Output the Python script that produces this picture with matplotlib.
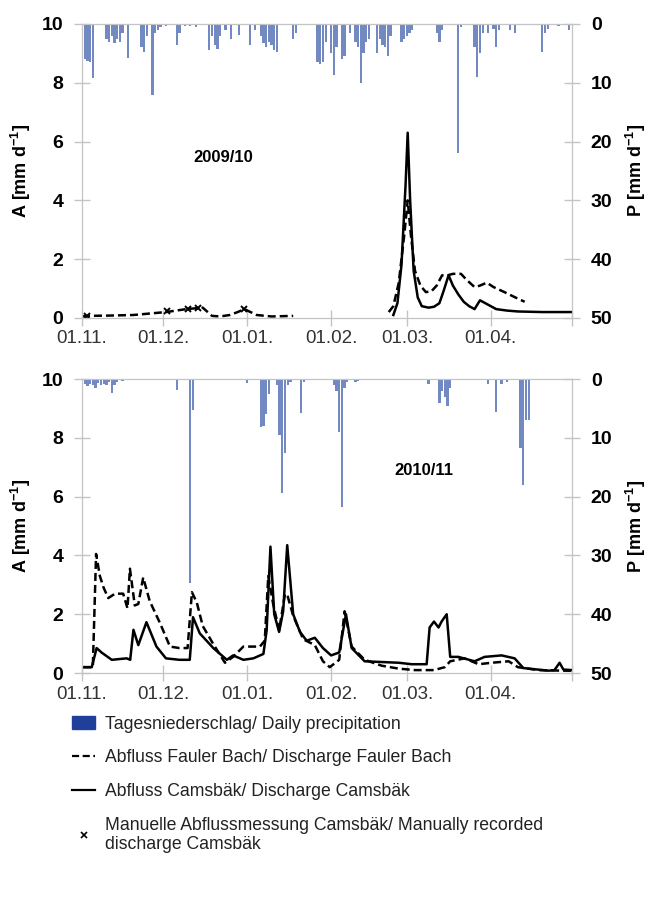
import matplotlib
matplotlib.use("Agg")
import matplotlib.pyplot as plt
from matplotlib.lines import Line2D
from matplotlib.patches import Patch

plt.rcParams['font.family'] = ['Liberation Sans', 'DejaVu Sans']
plt.rcParams['mathtext.fontset'] = 'custom'
plt.rcParams['mathtext.rm'] = 'Liberation Sans:bold'
plt.rcParams['mathtext.default'] = 'rm'

# x axis: days since 01.11.
month_days = [0, 30, 61, 92, 120, 151, 181]
month_labels = ["01.11.", "01.12.", "01.01.", "01.02.", "01.03.", "01.04.", ""]

# ---- 2009/10 ----
p1_day = [1, 2, 3, 4, 9, 10, 11, 12, 13, 14, 15, 17, 22, 23, 24, 26, 27, 28, 29,
          31, 33, 35, 36, 38, 40, 42, 44, 47, 48, 49, 50, 51, 53, 55, 58,
          62, 64, 66, 67, 68, 69, 70, 71, 72, 78, 79, 87, 88, 89, 90,
          92, 93, 94, 96, 97, 99, 101, 102, 103, 104, 105, 106,
          109, 110, 111, 112, 113, 114, 118, 119, 120, 121, 122,
          131, 132, 133, 139, 140, 145, 146, 147, 148, 150, 152, 153, 154,
          158, 160, 170, 171, 172, 176, 180]
p1_mm = [6.0, 6.3, 6.5, 9.2, 2.5, 3.0, 2.0, 3.2, 2.5, 3.0, 1.5, 5.8, 4.0, 4.8, 2.0, 12.0, 1.5, 1.0, 0.5,
         0.3, 0.2, 3.5, 1.5, 0.3, 0.3, 0.5, 0.2, 4.5, 2.0, 3.5, 4.2, 2.0, 1.0, 2.5, 1.8,
         3.5, 1.0, 2.0, 3.2, 4.0, 3.0, 3.5, 4.5, 4.8, 2.5, 1.5, 6.5, 6.8, 6.5, 3.0,
         5.0, 8.7, 4.0, 6.0, 5.5, 1.5, 3.0, 4.0, 10.0, 5.0, 3.0, 2.5,
         5.0, 2.5, 3.5, 4.0, 5.5, 2.0, 3.0, 2.5, 2.0, 1.5, 1.0,
         1.5, 3.0, 1.0, 22.0, 0.5, 4.0, 9.0, 5.0, 1.5, 1.5, 0.8, 4.0, 1.0,
         1.0, 1.5, 4.7, 1.5, 0.8, 0.3, 1.0]

fb1_day_a = [0, 2, 10, 19, 25, 31, 38.5, 41, 44.6, 48, 51, 54.6, 57.5, 60, 64.5, 70, 78]
fb1_a = [0.05, 0.07, 0.08, 0.1, 0.15, 0.2, 0.3, 0.32, 0.35, 0.07, 0.05, 0.1, 0.2, 0.3, 0.1, 0.05, 0.07]
fb1_day_b = [113.3, 115, 117, 119, 120.3, 121.5, 123, 125, 127, 129, 131, 133, 135, 137,
             140, 142, 145, 147, 149.5, 152, 156, 160, 163.5]
fb1_b = [0.2, 0.4, 1.2, 2.8, 4.0, 2.8, 1.6, 1.1, 0.88, 0.9, 1.1, 1.45, 1.45, 1.5,
         1.5, 1.3, 1.05, 1.1, 1.2, 1.05, 0.88, 0.7, 0.55]
cb1_day = [115, 116.5, 118, 119.5, 120.3, 121.2, 122.5, 124, 125.5, 128, 130, 132, 133.5, 135.4,
           137, 139, 141, 143, 145, 146, 147, 150, 153, 157, 161, 170, 181]
cb1_a = [0.1, 0.5, 1.8, 4.5, 6.3, 4.0, 1.6, 0.7, 0.4, 0.35, 0.38, 0.5, 0.9, 1.45,
         1.1, 0.8, 0.55, 0.4, 0.3, 0.45, 0.6, 0.45, 0.3, 0.25, 0.22, 0.2, 0.2]
man1_day = [2, 31.5, 39, 43, 60]
man1_a = [0.05, 0.25, 0.3, 0.35, 0.3]

# ---- 2010/11 ----
p2_day = [1, 2, 3, 4, 5, 6, 7, 8, 9, 10, 11, 12, 13, 15, 35, 40, 41, 61,
          66, 67, 68, 69, 72, 73, 74, 75, 76, 77, 81, 82,
          93, 94, 95, 96, 97, 98, 101, 102, 128, 132, 133, 134, 135, 136,
          150, 153, 155, 157, 162, 163, 164, 165]
p2_mm = [0.8, 1.2, 0.8, 1.0, 1.5, 0.6, 1.0, 0.8, 1.0, 0.5, 2.3, 1.0, 0.5, 0.4, 1.9, 34.6, 5.3, 0.7,
         8.2, 8.0, 6.0, 2.5, 1.0, 9.5, 19.3, 12.5, 1.0, 0.5, 5.8, 0.5,
         1.0, 2.0, 9.0, 21.7, 1.5, 0.5, 0.5, 0.3, 0.8, 4.0, 2.0, 3.0, 4.5, 1.5,
         0.8, 5.6, 0.8, 0.5, 11.8, 18.0, 7.0, 7.0]

fb2_day = [0.4, 4, 5.2, 6.6, 8, 9.7, 12.2, 15.2, 16.8, 17.7, 19.5, 20.8, 22.6, 25, 28.8, 32.5,
           36, 39, 40.6, 42.4, 44.6, 48.4, 52.8, 55.8, 59.6, 65.7, 67.5, 68.8, 70.6, 72.8,
           75, 76, 78, 81.7, 86, 89, 91.5, 92.2, 95, 97, 99.6, 104.4, 110.7, 117, 123, 130,
           134, 136, 141.3, 146.5, 151.3, 157.6, 161, 168.6, 178, 181]
fb2_a = [0.2, 0.2, 4.05, 3.3, 2.9, 2.55, 2.7, 2.7, 2.2, 3.55, 2.3, 2.35, 3.25, 2.45, 1.7, 0.9,
         0.85, 0.85, 2.75, 2.4, 1.6, 1.0, 0.35, 0.55, 0.9, 0.9, 1.1, 3.3, 2.35, 1.45,
         2.7, 2.6, 1.95, 1.15, 0.95, 0.4, 0.2, 0.25, 0.45, 2.1, 0.9, 0.45, 0.25, 0.15, 0.1, 0.1,
         0.2, 0.4, 0.5, 0.3, 0.35, 0.4, 0.2, 0.1, 0.08, 0.08]
cb2_day = [0.4, 3.6, 5.4, 7.2, 11, 16.5, 17.8, 19, 20.8, 23.8, 27.5, 31, 36, 39.8, 41, 43.5,
           48.5, 53.5, 55.8, 59.6, 63.3, 67, 68.2, 69.6, 71, 72.8, 74.3, 75.8, 78, 80.5,
           83, 86, 89, 92, 95, 97.5, 99.6, 104.4, 117, 121.8, 127.3, 128.4, 130, 131.7,
           132.8, 134.7, 136, 139, 145, 148.7, 155, 159.8, 163, 172.3, 174.5, 176.4, 177.8, 181]
cb2_a = [0.2, 0.2, 0.85, 0.7, 0.45, 0.5, 0.45, 1.47, 0.95, 1.73, 0.9, 0.5, 0.45, 0.45, 1.9, 1.35,
         0.85, 0.45, 0.6, 0.45, 0.5, 0.65, 1.45, 4.3, 2.0, 1.4, 2.1, 4.35, 2.0, 1.4,
         1.1, 1.2, 0.85, 0.6, 0.7, 2.0, 0.85, 0.4, 0.35, 0.3, 0.3, 1.55, 1.75, 1.55,
         1.75, 2.0, 0.55, 0.55, 0.4, 0.55, 0.6, 0.5, 0.17, 0.08, 0.1, 0.35, 0.12, 0.1]

bar_col = '#7389c2'
spine_col = '#c4c4c4'
dash = (0, (3.2, 1.6))

fig = plt.figure(figsize=(6.64, 9.11), dpi=100)


def panel(rect, p_day, p_mm, lines, label, label_xy):
    ax = fig.add_axes(rect)
    for d, a, ls in lines:
        ax.plot(d, a, color='black', linestyle=ls, linewidth=1.8)
    ax.set_xlim(0, 181)
    ax.set_ylim(0, 10)
    ax.set_yticks([0, 2, 4, 6, 8, 10])
    ax.set_xticks(month_days)
    ax.set_xticklabels(month_labels, fontsize=13.5, color='#333333')
    for lab in ax.get_yticklabels():
        lab.set_fontsize(14)
        lab.set_fontweight('bold')
    ax.tick_params(axis='both', direction='inout', length=11, color=spine_col, width=1)
    ax.tick_params(axis='y', pad=8)
    ax.set_ylabel('A [mm d$^{-1}$]', fontsize=13, fontweight='bold', labelpad=6)
    for s in ax.spines.values():
        s.set_color(spine_col)
    ax.text(label_xy[0], label_xy[1], label, fontsize=12, fontweight='bold')

    ax2 = ax.twinx()
    ax2.bar(p_day, p_mm, width=0.85, color=bar_col, align='center')
    ax2.set_ylim(50, 0)
    ax2.set_yticks([0, 10, 20, 30, 40, 50])
    for lab in ax2.get_yticklabels():
        lab.set_fontsize(14)
        lab.set_fontweight('bold')
    ax2.tick_params(axis='y', direction='inout', length=11, color=spine_col, width=1, pad=8)
    ax2.set_ylabel('P [mm d$^{-1}$]', fontsize=13, fontweight='bold', rotation=90, labelpad=8)
    for s in ax2.spines.values():
        s.set_color(spine_col)
    return ax


ax_top = panel([0.1235, 0.651, 0.738, 0.3227], p1_day, p1_mm,
               [(fb1_day_a, fb1_a, dash), (fb1_day_b, fb1_b, dash), (cb1_day, cb1_a, '-')],
               '2009/10', (41, 5.3))
ax_top.plot(man1_day, man1_a, linestyle='none', marker='x', color='black',
            markersize=5, markeredgewidth=1.4)

ax_bot = panel([0.1235, 0.2612, 0.738, 0.3227], p2_day, p2_mm,
               [(fb2_day, fb2_a, dash), (cb2_day, cb2_a, '-')],
               '2010/11', (115.5, 6.75))

handles = [Patch(color='#1f3f9a'),
           Line2D([], [], color='black', linestyle=dash, linewidth=1.6),
           Line2D([], [], color='black', linestyle='-', linewidth=1.6),
           Line2D([], [], color='black', linestyle='none', marker='x', markersize=4,
                  markeredgewidth=1.2)]
labels = ['Tagesniederschlag/ Daily precipitation',
          'Abfluss Fauler Bach/ Discharge Fauler Bach',
          'Abfluss Camsbäk/ Discharge Camsbäk',
          'Manuelle Abflussmessung Camsbäk/ Manually recorded\ndischarge Camsbäk']
fig.legend(handles, labels, loc='upper left', bbox_to_anchor=(0.085, 0.232), frameon=False,
           fontsize=12.7, labelspacing=0.95, handlelength=1.3, handletextpad=0.55,
           labelcolor='#222222')

fig.savefig('out.png', dpi=100)
